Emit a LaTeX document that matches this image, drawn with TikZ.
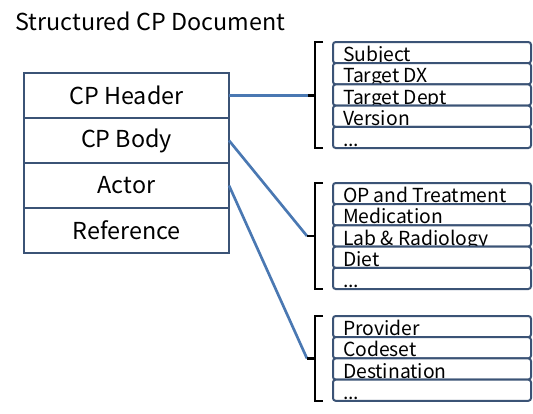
\documentclass[tikz,border=0pt]{standalone}
\usepackage{fontspec}
\setmainfont{Noto Sans CJK KR}
\usetikzlibrary{positioning}

\definecolor{boxline}{HTML}{3B5376}
\definecolor{linkline}{HTML}{4A78B2}

\tikzset{
  title/.style={inner sep=0pt, font=\fontsize{17.5}{20}\selectfont},
  part/.style={draw=boxline, line width=2pt, fill=white, outer sep=0pt,
    minimum width=153.75pt, minimum height=33.75pt, inner sep=0pt,
    font=\fontsize{17.5}{20}\selectfont},
  item/.style={draw=boxline, line width=1.5pt, fill=white, outer sep=0pt,
    rounded corners=2pt, minimum width=148.5pt, minimum height=15.9pt,
    inner ysep=0pt, inner xsep=7.5pt, text width=133.5pt, align=flush left,
    text height=14.7pt, text depth=1.2pt, font=\fontsize{14.5}{16}\selectfont},
  link/.style={draw=linkline, line width=2pt},
  brace/.style={draw=black, line width=2pt}
}

\begin{document}
\begin{tikzpicture}[x=.75pt,y=-.75pt]
  \useasboundingbox (0,0) rectangle (533,414);

  \node[title, anchor=base west] (ttl) at (15,31) {Structured CP Document};

  %% document parts
  \node[part] (hdr) at (126.5,95.5) {CP Header};
  \node[part, below=0pt of hdr] (body) {CP Body};
  \node[part, below=0pt of body] (actor) {Actor};
  \node[part, below=0pt of actor] (ref) {Reference};

  %% bracket tips
  \coordinate (hbr) at (308,95.5);
  \coordinate (bbr) at (307,236);
  \coordinate (abr) at (307,358.5);

  %% links
  \draw[link] (hdr.east) -- (hbr);
  \draw[link] (body.east) -- (bbr);
  \draw[link] (actor.east) -- (abr);

  %% brackets
  \draw[brace] (323,42) -- (315,42) -- (315,148) -- (323,148);
  \draw[brace] (hbr) -- (315,95.5);
  \draw[brace] (323,183) -- (315,183) -- (315,289) -- (323,289);
  \draw[brace] (bbr) -- (315,236);
  \draw[brace] (323,316) -- (315,316) -- (315,401) -- (323,401);
  \draw[brace] (abr) -- (315,358.5);

  %% header items
  \node[item] (subj) at (432,52.6) {Subject};
  \node[item, below=0pt of subj] (tdx) {Target DX};
  \node[item, below=0pt of tdx] (tdept) {Target Dept};
  \node[item, below=0pt of tdept] (ver) {Version};
  \node[item, below=0pt of ver] (hmore) {...};

  %% body items
  \node[item] (optr) at (432,193.6) {OP and Treatment};
  \node[item, below=0pt of optr] (med) {Medication};
  \node[item, below=0pt of med] (lab) {Lab \& Radiology};
  \node[item, below=0pt of lab] (diet) {Diet};
  \node[item, below=0pt of diet] (bmore) {...};

  %% actor items
  \node[item] (prov) at (432,326.6) {Provider};
  \node[item, below=0pt of prov] (code) {Codeset};
  \node[item, below=0pt of code] (dest) {Destination};
  \node[item, below=0pt of dest] (amore) {...};
\end{tikzpicture}
\end{document}
